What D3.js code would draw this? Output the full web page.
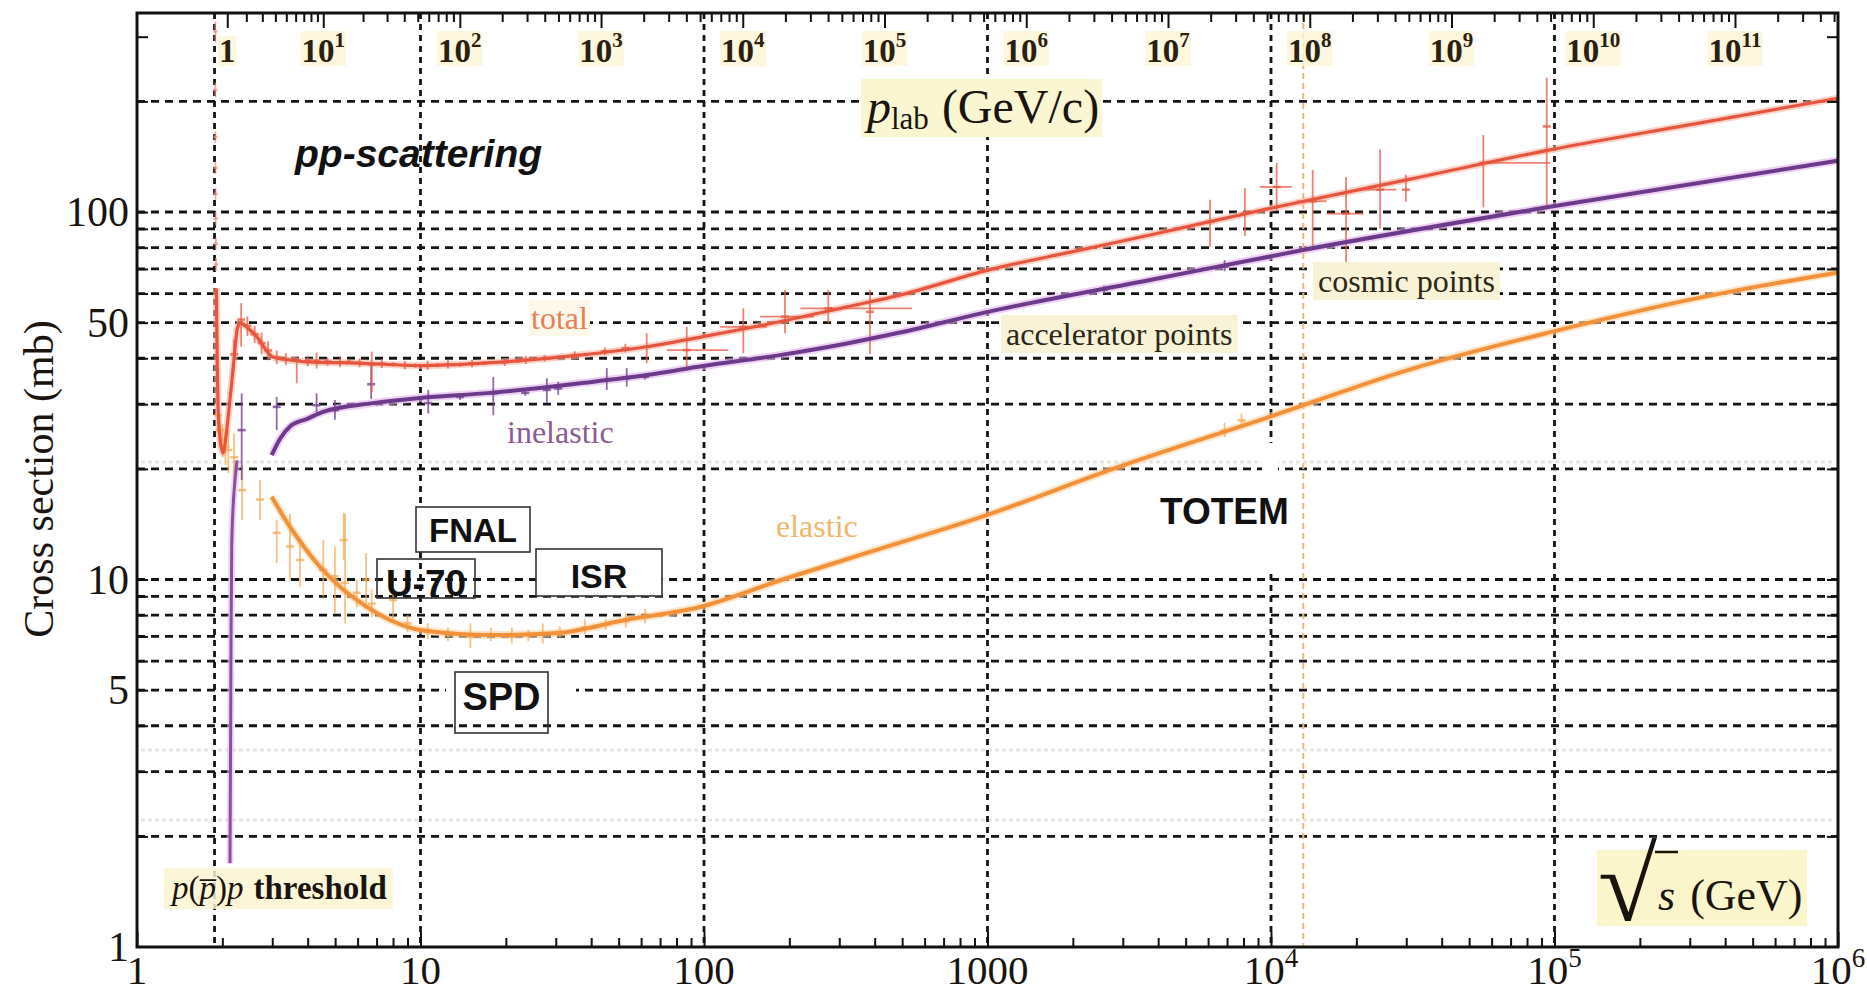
<!DOCTYPE html>
<html>
<head>
<meta charset="utf-8">
<title>pp scattering cross sections</title>
<script src="https://cdn.jsdelivr.net/npm/d3@7/dist/d3.min.js"></script>
<style>
  body { margin: 0; background: #fff; }
  svg { display: block; }
</style>
</head>
<body>
<svg width="1867" height="994"></svg>
<script>
// sqrt(s) in GeV, sigma in mb
const sqrtsLabels = [1, 10, 100, 1000, 1e4, 1e5, 1e6];
const sigmaLabels = [1, 5, 10, 50, 100];
const sigmaGrid = [2, 3, 4, 5, 6, 7, 8, 9, 10, 20, 30, 40, 50, 60, 70, 80, 90, 100, 200];
const sigmaMarks = [2, 3, 4, 5, 6, 7, 8, 9, 10, 20, 30, 40, 50, 60, 70, 80, 90, 100, 200, 300];
const sqrtsGrid = [1.877, 10, 100, 1000, 1e4, 1e5];
const lhcLine = [13000];
const plabExponents = [0, 1, 2, 3, 4, 5, 6, 7, 8, 9, 10, 11];

// total (red)
const totalS = [1.905, 1.918, 1.931, 1.96, 2.011, 2.06, 2.11, 2.163, 2.21, 2.253, 2.308, 2.4, 2.5, 2.651, 2.8, 3.018, 3.5, 3.98, 5.97, 9.96, 17.6, 36.5, 62.8, 99.2, 185, 319, 491, 1004, 2000, 3742, 9900, 31600, 96400, 316000, 1e6];
const totalSigma = [62, 40, 29.5, 24.5, 22.1, 24.5, 29, 34.9, 41.5, 47.7, 49.9, 49.2, 47.8, 45.7, 43, 40.3, 39.5, 39.1, 38.8, 38.2, 38.9, 40.8, 43.0, 45.8, 50.3, 55.2, 59.4, 69.5, 78, 86.6, 102.3, 123.3, 147.6, 174, 204];

// inelastic (purple)
const inelS = [2.987, 3.2, 3.465, 4.0, 4.53, 6.8, 9.96, 17.6, 36.5, 62.8, 99.2, 185, 319, 491, 1004, 3742, 12970, 96400, 1e6];
const inelSigma = [21.8, 24.2, 26.1, 27.4, 28.6, 30.2, 31.2, 32.2, 34.2, 36.0, 38.1, 40.8, 43.9, 47.0, 53.5, 65.3, 78.8, 103.3, 138];
const inelThrS = [2.128, 2.14, 2.146, 2.158, 2.19, 2.217, 2.253];
const inelThrSigma = [1.69, 4.0, 6.84, 12.25, 16.5, 18.65, 21.1];

// elastic (orange)
const elS = [2.987, 3.465, 3.97, 4.53, 5.2, 5.96, 7.81, 9.96, 17.7, 30.5, 52.6, 96.8, 189.5, 400, 1000, 2772, 10000, 31600, 1e5, 316000, 1e6];
const elSigma = [16.8, 13.9, 12.0, 10.6, 9.56, 8.80, 7.76, 7.29, 7.06, 7.15, 7.76, 8.42, 10, 12.0, 15.0, 20, 27.8, 37.5, 47.4, 58.2, 68.5];

// measured points: [sqrt(s), sigma, sigmaLow, sigmaHigh, sqrtsLow, sqrtsHigh]
const totalPts = [
  [2.2, 41, 37, 45], [2.33, 51, 43, 56.5], [2.45, 49, 46, 52], [2.6, 46.5, 44, 49],
  [2.75, 44, 41, 47], [2.9, 42, 39.5, 44.5], [3.11, 40.2, 38.5, 42], [3.35, 39.8, 38.3, 41.3],
  [3.66, 39.5, 34.2, 40.5], [4.0, 39.3, 38, 40.5], [4.3, 39.4, 37.5, 41.5], [4.7, 39.2, 38.2, 40.2],
  [5.2, 39.0, 37.8, 40.2], [5.6, 39.1, 38.6, 39.6], [6.1, 38.9, 37.8, 40], [6.73, 38.5, 32.4, 41.7],
  [7.3, 38.7, 37.6, 39.8], [8.0, 38.5, 38, 39], [8.8, 38.3, 37.3, 39.3], [9.6, 38.2, 37.7, 38.7],
  [10.6, 38.3, 37.2, 39.4], [11.5, 38.3, 37.8, 38.8], [12.5, 38.5, 37.5, 39.5], [13.8, 38.4, 37.9, 38.9],
  [15.2, 38.7, 37.8, 39.6], [16.8, 38.8, 38.3, 39.3], [19.8, 39.0, 38.1, 40], [22.0, 39.3, 38.8, 39.8],
  [23.5, 39.6, 38.6, 40.6], [27.4, 40.0, 39.2, 40.8], [30.7, 40.3, 39.8, 40.8], [35.0, 40.8, 39.8, 41.8],
  [44.7, 41.8, 40.8, 42.8], [52.8, 42.6, 41.5, 43.8], [62.8, 43.0, 38.8, 46.8],
  [86.9, 42.1, 37.9, 48.7, 73.9, 121.8], [137.6, 48.7, 41.3, 54.7, 113.9, 166.4],
  [193.1, 51.9, 46.8, 61.4, 157.6, 244.3], [274.5, 54.7, 49.8, 61.4, 218.8, 541.6],
  [385, 53.5, 41.1, 61.4],
  [6095, 94, 80.5, 108], [8090, 99, 86, 116], [10470, 117, 101, 136, 9150, 11830],
  [14030, 107, 80.5, 130, 12300, 15700], [18400, 99, 73, 124.5, 15700, 21200],
  [24260, 115, 90, 148, 21200, 27700], [29900, 115, 106.7, 126.4],
  [56100, 136, 103, 162, 56100, 96400], [93900, 171, 103, 232]
];
// faint low-momentum points climbing along the threshold line
const thresholdPts = [
  [1.889, 310, 290, 330], [1.889, 215, 205, 225], [1.890, 160, 154, 166], [1.891, 132, 127, 137],
  [1.892, 112, 108, 116], [1.894, 96, 92, 100], [1.897, 82, 79, 85], [1.900, 72, 69, 75]
];
const inelPts = [
  [2.34, 25.5, 18.65, 32.1], [3.11, 29.5, 25.5, 31.4], [4.30, 29.8, 28.3, 32.1], [4.99, 28.9, 27.2, 30.8],
  [6.7, 34, 31, 38.8], [10.65, 30.2, 28.3, 32.8], [13.8, 31.4, 30.8, 32], [18.06, 32.1, 28.0, 35.6],
  [23.4, 32.2, 31.6, 32.8], [27.9, 32.8, 30.2, 35.3], [30.6, 33.1, 31.8, 34.5], [45.4, 34.8, 32.8, 37.6],
  [53.4, 35.3, 33.5, 37.6], [61.9, 35.6, 35.0, 36.2], [2576, 61.5, 60, 63], [6860, 71, 69, 74]
];
const elPts = [
  [1.93, 28, 25, 31], [1.96, 25.5, 23, 28], [2.0, 24, 21.5, 26.5], [2.05, 23, 20.5, 25.5],
  [2.1, 22.5, 19.5, 25.5], [2.2, 21.5, 18, 25], [2.35, 17.5, 14.5, 20.5], [2.716, 16.5, 14.5, 18.65],
  [3.11, 13.4, 11.1, 14.5], [3.465, 12.3, 9.97, 15.1], [3.76, 11.3, 9.56, 12.8], [4.54, 10.6, 8.98, 12.8],
  [4.99, 10.2, 8.09, 12.3], [5.36, 12.8, 11.3, 15.2], [5.42, 9.8, 7.6, 15.1], [5.96, 9.2, 8.4, 10],
  [6.43, 10, 8.6, 11.8], [6.73, 8.6, 7.9, 9.4], [8.0, 8.8, 7.8, 10.6], [9.0, 7.6, 7.2, 8.0],
  [10.6, 7.2, 6.9, 7.6], [12.5, 7.1, 6.8, 7.4], [15, 7.0, 6.5, 7.6], [17.7, 7.1, 6.8, 7.4],
  [21, 7.0, 6.7, 7.4], [24, 7.05, 6.8, 7.3], [27, 7.1, 6.7, 7.6], [31, 7.2, 6.95, 7.45],
  [38, 7.4, 7.1, 7.8], [45, 7.55, 7.3, 7.8], [53, 7.7, 7.4, 8.1], [62, 7.9, 7.6, 8.3],
  [6860, 25.4, 24.4, 26.7], [7870, 27.1, 26.2, 28.3]
];

const serif = '"Liberation Serif", "Times New Roman", serif';
const sans = '"Liberation Sans", Arial, sans-serif';

const x0 = 137, x1 = 1838, yBottom = 947, yTop = 13;
let svg = d3.select('svg');

let x = d3.scaleLog().domain([1, 1e6]).range([x0, x1]);
let y = d3.scaleLog().domain([1, 348]).range([yBottom, yTop]);

// p_lab -> sqrt(s) for a fixed proton target
const mp = 0.938272;
const toSqrtS = p => Math.sqrt(2 * mp * mp + 2 * mp * Math.sqrt(p * p + mp * mp));

svg.append('rect').attr('width', 1867).attr('height', 994).attr('fill', '#fff');

// faint ghost lines of the scanned original
svg.append('g').selectAll('line')
  .data([462, 750, 820]).join('line')
  .attr('x1', x0 + 4).attr('x2', x1 - 4).attr('y1', d => d).attr('y2', d => d)
  .attr('stroke', '#e8e6e2').attr('stroke-width', 3).attr('stroke-dasharray', '4,3');

// grid
svg.append('g').selectAll('line')
  .data(sigmaGrid).join('line')
  .attr('x1', x0).attr('x2', x1)
  .attr('y1', d => y(d)).attr('y2', d => y(d))
  .attr('stroke', '#141414').attr('stroke-width', 2.8).attr('stroke-dasharray', '8,6');

svg.append('g').selectAll('line')
  .data(sqrtsGrid).join('line')
  .attr('x1', d => x(d)).attr('x2', d => x(d))
  .attr('y1', yTop).attr('y2', yBottom)
  .attr('stroke', '#141414').attr('stroke-width', 2.8).attr('stroke-dasharray', '6,5');

svg.append('g').selectAll('line')
  .data(lhcLine).join('line')
  .attr('x1', d => x(d)).attr('x2', d => x(d))
  .attr('y1', yTop).attr('y2', yBottom)
  .attr('stroke', '#f0b878').attr('stroke-width', 2).attr('stroke-dasharray', '6,4');

// white patches left in the original figure
svg.append('rect').attr('x', 446).attr('y', 679).attr('width', 130).attr('height', 22).attr('fill', '#fff');
svg.append('rect').attr('x', 1262).attr('y', 443).attr('width', 16).attr('height', 127).attr('fill', '#fff');

// curves
let line = d3.line().x(d => x(d[0])).y(d => y(d[1])).curve(d3.curveMonotoneX);
const zip = (a, b) => a.map((v, i) => [v, b[i]]);

let curves = [
  { pts: zip(elS, elSigma), color: '#f2913a', glow: '#f9d4a8', w: 4 },
  { pts: zip(inelThrS, inelThrSigma), color: '#8a4f9e', glow: '#e6bdec', w: 3 },
  { pts: zip(inelS, inelSigma), color: '#6c3a8a', glow: '#e2b0ea', w: 4 },
  { pts: zip(totalS, totalSigma), color: '#e8553e', glow: '#f7b8a8', w: 3.2 }
];
curves.forEach(c => {
  svg.append('path').datum(c.pts).attr('d', line)
    .attr('fill', 'none').attr('stroke', c.glow).attr('stroke-width', c.w + 4).attr('stroke-opacity', 0.6);
});

// error bars
function drawPoints(pts, color, opacity, half) {
  let g = svg.append('g').attr('stroke', color).attr('stroke-opacity', opacity).attr('stroke-width', 1.8);
  g.selectAll('line.v').data(pts).join('line').attr('class', 'v')
    .attr('x1', d => x(d[0])).attr('x2', d => x(d[0]))
    .attr('y1', d => y(d[2])).attr('y2', d => y(d[3]));
  g.selectAll('line.h').data(pts.filter(d => d.length > 4)).join('line').attr('class', 'h')
    .attr('x1', d => x(d[4])).attr('x2', d => x(d[5]))
    .attr('y1', d => y(d[1])).attr('y2', d => y(d[1]));
  g.selectAll('line.c').data(pts).join('line').attr('class', 'c')
    .attr('x1', d => x(d[0]) - half).attr('x2', d => x(d[0]) + half)
    .attr('y1', d => y(d[1])).attr('y2', d => y(d[1]))
    .attr('stroke-width', 2.6);
}
drawPoints(thresholdPts, '#ec8a7a', 0.7, 2);
drawPoints(elPts, '#f1a84e', 0.7, 4);
drawPoints(inelPts, '#74468f', 0.8, 4);
drawPoints(totalPts, '#e65a44', 0.75, 4);

curves.forEach(c => {
  svg.append('path').datum(c.pts).attr('d', line)
    .attr('fill', 'none').attr('stroke', c.color).attr('stroke-width', c.w)
    .attr('stroke-linejoin', 'round');
});

// axes ticks
function styleAxis(g) {
  g.select('.domain').remove();
  g.selectAll('line').attr('stroke', '#111').attr('stroke-width', 2);
}
let minorS = [];
sqrtsLabels.slice(0, -1).forEach(d => { for (let j = 2; j <= 9; j++) minorS.push(d * j); });

svg.append('g').attr('transform', `translate(0, ${yBottom})`)
  .call(d3.axisBottom(x).tickValues(sqrtsLabels).tickSizeInner(-15).tickSizeOuter(0).tickFormat(''))
  .call(styleAxis);
svg.append('g').attr('transform', `translate(0, ${yBottom})`)
  .call(d3.axisBottom(x).tickValues(minorS).tickSizeInner(-9).tickSizeOuter(0).tickFormat(''))
  .call(styleAxis);
svg.append('g').attr('transform', `translate(${x0}, 0)`)
  .call(d3.axisLeft(y).tickValues(sigmaMarks).tickSizeInner(-11).tickSizeOuter(0).tickFormat(''))
  .call(styleAxis);
svg.append('g').attr('transform', `translate(${x1}, 0)`)
  .call(d3.axisRight(y).tickValues(sigmaMarks).tickSizeInner(-11).tickSizeOuter(0).tickFormat(''))
  .call(styleAxis);

// top p_lab axis
let plabMajor = plabExponents.map(k => Math.pow(10, k));
let plabMinor = [];
plabMajor.forEach(p => { for (let j = 2; j <= 9; j++) if (toSqrtS(p * j) <= 1e6) plabMinor.push(p * j); });
svg.append('g').attr('transform', `translate(0, ${yTop})`)
  .call(d3.axisTop(x).tickValues(plabMajor.map(toSqrtS)).tickSizeInner(-15).tickSizeOuter(0).tickFormat(''))
  .call(styleAxis);
svg.append('g').attr('transform', `translate(0, ${yTop})`)
  .call(d3.axisTop(x).tickValues(plabMinor.map(toSqrtS)).tickSizeInner(-9).tickSizeOuter(0).tickFormat(''))
  .call(styleAxis);

// frame
svg.append('rect').attr('x', x0).attr('y', yTop).attr('width', x1 - x0).attr('height', yBottom - yTop)
  .attr('fill', 'none').attr('stroke', '#111').attr('stroke-width', 3);

// helpers for text
function backdrop(t, fill, px, py, op) {
  let b = t.node().getBBox();
  d3.select(t.node().parentNode).insert('rect', () => t.node())
    .attr('x', b.x - px).attr('y', b.y - py)
    .attr('width', b.width + 2 * px).attr('height', b.height + 2 * py)
    .attr('fill', fill).attr('fill-opacity', op === undefined ? 1 : op);
}
function powerLabel(g, k, size, supSize, raise) {
  if (k === 0) { g.append('tspan').text('1'); return; }
  if (k <= 3 && size > 40) { g.append('tspan').text(String(Math.pow(10, k))); return; }
  g.append('tspan').text('10');
  g.append('tspan').attr('dy', -raise).attr('font-size', supSize).text(String(k));
}

// bottom labels
sqrtsLabels.forEach((v, i) => {
  let t = svg.append('text').attr('x', x(v)).attr('y', 984)
    .attr('text-anchor', 'middle').attr('font-family', serif).attr('font-size', 41).attr('fill', '#1a1410');
  powerLabel(t, i, 41, 27, 17);
});

// left labels
sigmaLabels.forEach(v => {
  svg.append('text').attr('x', 129).attr('y', y(v) + 14)
    .attr('text-anchor', 'end').attr('font-family', serif).attr('font-size', 42).attr('fill', '#1a1410')
    .text(v);
});

// top p_lab labels
let topG = svg.append('g');
plabExponents.forEach(k => {
  let t = topG.append('text').attr('x', x(toSqrtS(Math.pow(10, k)))).attr('y', 62)
    .attr('text-anchor', 'middle').attr('font-family', serif).attr('font-size', 33)
    .attr('font-weight', 'bold').attr('fill', '#2a2010');
  powerLabel(t, k, 33, 21, 15);
  backdrop(t, '#fbf5d4', 1, -3, 0.8);
});

// axis titles
svg.append('text')
  .attr('transform', 'translate(53, 479) rotate(-90)')
  .attr('text-anchor', 'middle').attr('font-family', serif).attr('font-size', 42).attr('fill', '#1a1410')
  .text('Cross section (mb)');

let plab = svg.append('text').attr('x', 867).attr('y', 123)
  .attr('font-family', serif).attr('font-size', 48).attr('fill', '#1a1410');
plab.append('tspan').attr('font-style', 'italic').text('p');
plab.append('tspan').attr('font-size', 31).attr('dy', 6).text('lab');
plab.append('tspan').attr('dy', -6).attr('dx', 13).text('(GeV/c)');
backdrop(plab, '#fbf6d2', 3, 1);

// sqrt(s) label: one text, radical stretched sideways
let sq = svg.append('g');
sq.append('rect').attr('x', 1597).attr('y', 850).attr('width', 210).attr('height', 76).attr('fill', '#fbf5cc');
let sqText = sq.append('text').attr('x', 1598).attr('y', 920)
  .attr('font-family', serif).attr('font-size', 44).attr('fill', '#1a1410');
sqText.append('tspan').attr('font-size', 104).attr('textLength', 59).attr('lengthAdjust', 'spacingAndGlyphs').text('√');
sqText.append('tspan').attr('font-style', 'italic').attr('dx', 1).attr('dy', -10).text('s');
sqText.append('tspan').attr('dx', 15).text('(GeV)');
sq.append('line').attr('x1', 1655).attr('x2', 1678).attr('y1', 852).attr('y2', 852)
  .attr('stroke', '#1a1410').attr('stroke-width', 2.5);

// threshold label
let thr = svg.append('text').attr('x', 172).attr('y', 899)
  .attr('font-family', serif).attr('font-size', 33).attr('fill', '#1a1410');
thr.append('tspan').attr('font-style', 'italic').text('p');
thr.append('tspan').text('(');
thr.append('tspan').attr('font-style', 'italic').text('p\u0305');
thr.append('tspan').text(')');
thr.append('tspan').attr('font-style', 'italic').text('p');
thr.append('tspan').attr('font-weight', 'bold').attr('dx', 10).text('threshold');
backdrop(thr, '#fbf5d2', 6, 2, 0.85);

// curve names
let tTotal = svg.append('text').attr('x', 531).attr('y', 329)
  .attr('font-family', serif).attr('font-size', 32).attr('fill', '#e58057').text('total');
backdrop(tTotal, '#fdf8ea', 2, 0);
svg.append('text').attr('x', 507).attr('y', 443)
  .attr('font-family', serif).attr('font-size', 32).attr('fill', '#8a5b94').text('inelastic');
svg.append('text').attr('x', 776).attr('y', 537)
  .attr('font-family', serif).attr('font-size', 32).attr('fill', '#efb66c').text('elastic');

let acc = svg.append('text').attr('x', 1006).attr('y', 345)
  .attr('font-family', serif).attr('font-size', 32).attr('fill', '#2b2618').text('accelerator points');
backdrop(acc, '#f8f2d6', 5, 1);
let cos = svg.append('text').attr('x', 1318).attr('y', 292)
  .attr('font-family', serif).attr('font-size', 32).attr('fill', '#2b2618').text('cosmic points');
backdrop(cos, '#f8f2d6', 5, 1);

svg.append('text').attr('x', 295).attr('y', 167)
  .attr('font-family', sans).attr('font-size', 39).attr('font-weight', 'bold').attr('font-style', 'italic')
  .attr('fill', '#111').text('pp-scattering');

svg.append('text').attr('x', 1160).attr('y', 524)
  .attr('font-family', sans).attr('font-size', 37).attr('font-weight', 'bold')
  .attr('fill', '#111').text('TOTEM');

// accelerator boxes
const boxes = [
  { name: 'FNAL', x: 416, y: 507, w: 114, h: 45, size: 33, fill: '#fff', base: 542 },
  { name: 'U-70', x: 377, y: 559, w: 98, h: 39, size: 37, fill: 'none', base: 596 },
  { name: 'ISR', x: 536, y: 549, w: 126, h: 47, size: 34, fill: '#fff', base: 588 },
  { name: 'SPD', x: 455, y: 672, w: 93, h: 61, size: 38, fill: 'none', base: 710 }
];
boxes.forEach(b => {
  svg.append('rect').attr('x', b.x).attr('y', b.y).attr('width', b.w).attr('height', b.h)
    .attr('fill', b.fill).attr('stroke', '#333').attr('stroke-width', 1.6);
  svg.append('text').attr('x', b.x + b.w / 2).attr('y', b.base).attr('text-anchor', 'middle')
    .attr('font-family', sans).attr('font-size', b.size).attr('font-weight', 'bold')
    .attr('fill', '#111').text(b.name);
});
</script>
</body>
</html>
